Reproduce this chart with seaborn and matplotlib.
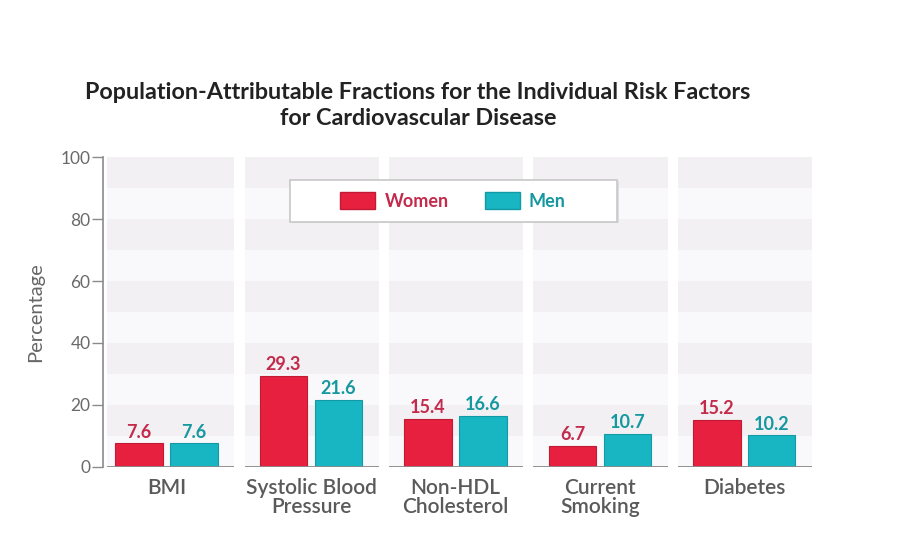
import matplotlib
matplotlib.use("Agg")
import matplotlib.pyplot as plt
from matplotlib.patches import Rectangle
import seaborn as sns
import pandas as pd

factors = ["BMI", "Systolic Blood\nPressure", "Non-HDL\nCholesterol", "Current\nSmoking", "Diabetes"]
women = [7.6, 29.3, 15.4, 6.7, 15.2]
men = [7.6, 21.6, 16.6, 10.7, 10.2]
groups = ["Women", "Men"]
yticks = [0, 20, 40, 60, 80, 100]

title = "Population-Attributable Fractions for the Individual Risk Factors\nfor Cardiovascular Disease"

bar_colors = {"Women": "#e8203f", "Men": "#17b6c2"}
edge_colors = {"Women": "#c01a35", "Men": "#139aa5"}
label_colors = {"Women": "#c32a4b", "Men": "#15989f"}

df = pd.DataFrame({
    "factor": factors * 2,
    "value": women + men,
    "sex": ["Women"] * len(factors) + ["Men"] * len(factors),
})

sns.set_style("white")
plt.rcParams["font.family"] = ["Lato", "DejaVu Sans"]

fig = plt.figure(figsize=(9.01, 5.39), dpi=100)
ax = fig.add_axes([0.1143, 0.1336, 0.7880, 0.5751])

# striped panels
dark, light = "#f2f0f3", "#f9f8fa"
for i in range(len(factors)):
    left = i - 0.46 if i > 0 else -0.41
    right = i + 0.47
    for k in range(10):
        ax.add_patch(Rectangle((left, k * 10), right - left, 10,
                               facecolor=dark if k % 2 == 1 else light,
                               edgecolor="none", zorder=0))
    ax.plot([left, right], [0, 0], color="#8a8a8a", lw=1.3, zorder=3,
            solid_capstyle="butt")

sns.barplot(data=df, x="factor", y="value", hue="sex", order=factors,
            hue_order=groups, palette=bar_colors, width=0.76, gap=0.14,
            ax=ax, zorder=2, legend=False, saturation=1)

for container, g in zip(ax.containers, groups):
    for patch in container:
        patch.set_edgecolor(edge_colors[g])
        patch.set_linewidth(0.8)
    vals = women if g == "Women" else men
    ax.bar_label(container, labels=[f"{v:.1f}" for v in vals], padding=2,
                 color=label_colors[g], fontsize=13, fontweight="bold")

ax.set_xlim(-0.44, 4.475)
ax.set_ylim(0, 100)
ax.set_yticks(yticks)
ax.set_yticklabels([str(t) for t in yticks], color="#6a6a6a", fontsize=12.5)
ax.tick_params(axis="y", direction="out", length=8, width=1, color="#8a8a8a", pad=1, left=True)
ax.tick_params(axis="x", length=0, pad=8)
ax.set_xticks(range(len(factors)))
ax.set_xticklabels(factors, color="#5a5a5a", fontsize=15, linespacing=0.95,
                   fontweight="semibold")
for s in ["top", "right", "bottom"]:
    ax.spines[s].set_visible(False)
ax.spines["left"].set_color("#8a8a8a")
ax.spines["left"].set_linewidth(1.2)
ax.set_xlabel("")
ax.set_ylabel("Percentage", color="#666666", fontsize=14.5, labelpad=12)

# legend box (drawn as a framed rectangle with a soft shadow)
ax.add_patch(Rectangle((0.2662, 0.787), 0.4605, 0.136, transform=ax.transAxes,
                       facecolor="#dddddd", edgecolor="none", zorder=4, clip_on=False))
ax.add_patch(Rectangle((0.2634, 0.790), 0.4605, 0.136, transform=ax.transAxes,
                       facecolor="white", edgecolor="#c8c8c8", lw=1.2, zorder=5, clip_on=False))
handles = [Rectangle((0, 0), 1, 1, facecolor=bar_colors[g], edgecolor=edge_colors[g]) for g in groups]
leg = ax.legend(handles, groups, loc="center", bbox_to_anchor=(0.493, 0.858), ncol=2,
                fontsize=13, frameon=False,
                handlelength=1.95, handleheight=1.05, handletextpad=0.5,
                columnspacing=2.0, borderpad=0.7, borderaxespad=0)
leg.set_zorder(6)
for t, g in zip(leg.get_texts(), groups):
    t.set_color(label_colors[g])
    t.set_fontweight("bold")

fig.text(0.464, 0.805, title, ha="center", va="center", fontsize=16.8,
         fontweight="bold", color="#222222", linespacing=1.3)

fig.savefig("out.png", dpi=100, facecolor="white")
